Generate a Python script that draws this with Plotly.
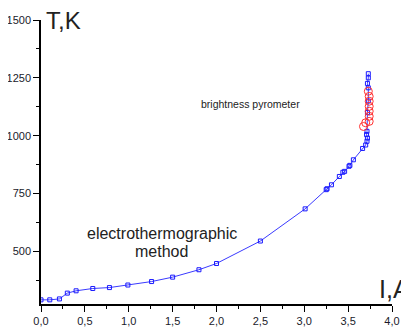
import plotly.graph_objects as go

# electrothermographic method (blue squares)
current_a = [0.0, 0.1, 0.21, 0.30, 0.40, 0.59, 0.78, 0.99, 1.26, 1.50, 1.80, 2.0,
             2.5, 3.01, 3.25, 3.26, 3.31, 3.40, 3.44, 3.46, 3.51, 3.52, 3.56,
             3.665, 3.70, 3.715, 3.72, 3.71, 3.715, 3.72, 3.73, 3.73, 3.72, 3.73, 3.73]
temp_k = [291, 291, 295, 320, 330, 340, 344, 355, 370, 389, 421, 448,
          545, 684, 767, 771, 788, 824, 842, 846, 868, 872, 896,
          945, 960, 976, 990, 1005, 1019, 1100, 1150, 1207, 1226, 1250, 1268]

# brightness pyrometer (red circles)
pyro_current = [3.675, 3.70, 3.74, 3.74, 3.74, 3.74, 3.74, 3.74, 3.73]
pyro_temp = [1040, 1056, 1062, 1084, 1106, 1127, 1149, 1170, 1192]

x_ticks = [0.0, 0.5, 1.0, 1.5, 2.0, 2.5, 3.0, 3.5, 4.0]
x_labels = ["0,0", "0,5", "1,0", "1,5", "2,0", "2,5", "3,0", "3,5", "4,0"]
y_ticks = [500, 750, 1000, 1250, 1500]
y_labels = ["500", "750", "1000", "1250", "1500"]

fig = go.Figure()
fig.add_trace(go.Scatter(
    x=current_a, y=temp_k, mode="lines+markers",
    line=dict(color="#3a3aff", width=1),
    marker=dict(symbol="square-open", size=4, color="#1a1aff", line=dict(width=1)),
    showlegend=False))
fig.add_trace(go.Scatter(
    x=pyro_current, y=pyro_temp, mode="markers",
    marker=dict(symbol="circle-open", size=8, color="#ff3030", line=dict(width=1)),
    showlegend=False))

axis_font = dict(family="Liberation Sans, Arial, sans-serif", size=11, color="#1a1a2a")
fig.update_xaxes(range=[0, 4.0], tickmode="array", tickvals=x_ticks, ticktext=x_labels,
                 ticks="outside", ticklen=6, tickwidth=1, tickcolor="black",
                 showline=True, linecolor="black", linewidth=1.5, showgrid=False,
                 zeroline=False, tickfont=axis_font, automargin=False,
                 minor=dict(ticks="outside", ticklen=3, tickcolor="black", dtick=0.25, tick0=0))
fig.update_yaxes(range=[273, 1500], tickmode="array", tickvals=y_ticks, ticktext=y_labels,
                 ticks="outside", ticklen=6, tickwidth=1, tickcolor="black",
                 showline=True, linecolor="black", linewidth=1.5, showgrid=False,
                 zeroline=False, tickfont=axis_font, automargin=False,
                 minor=dict(ticks="outside", ticklen=3, tickcolor="black", dtick=125, tick0=375))

text_font = dict(family="Liberation Sans, Arial, sans-serif", color="#222222")
# page body has an 8px default margin, so the figure is 8px smaller each way
fig.update_layout(
    width=401, height=320,
    margin=dict(l=33, r=17, t=12, b=24),
    paper_bgcolor="white", plot_bgcolor="white",
    annotations=[
        dict(text="T,K", xref="paper", yref="paper", x=0.008, y=1.0,
             xanchor="left", yanchor="middle", showarrow=False,
             font=dict(size=24, **text_font)),
        dict(text="I,A", xref="paper", yref="paper", x=1.056, y=0.052,
             xanchor="right", yanchor="middle", showarrow=False,
             font=dict(size=25, **text_font)),
        dict(text="brightness pyrometer", x=2.39, y=1135, xref="x", yref="y",
             showarrow=False, font=dict(size=10.5, **text_font)),
        dict(text="electrothermographic", x=1.375, y=577, xref="x", yref="y",
             showarrow=False, font=dict(size=16, **text_font)),
        dict(text="method", x=1.375, y=499, xref="x", yref="y",
             showarrow=False, font=dict(size=16, **text_font)),
    ],
)

fig.write_html("out.html")
